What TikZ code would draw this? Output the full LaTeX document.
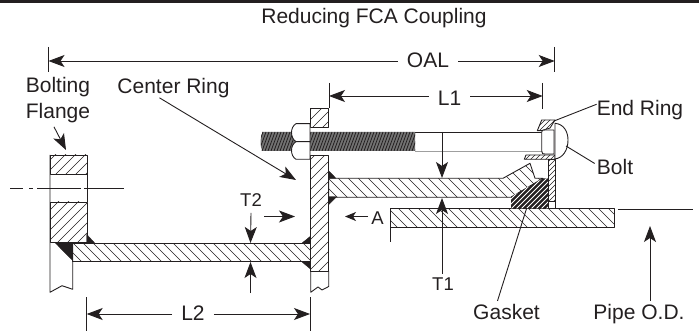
\documentclass[tikz,border=0pt]{standalone}
\usepackage{fontspec}
\setmainfont{Liberation Sans}
\usetikzlibrary{arrows.meta}
\definecolor{ink}{RGB}{35, 31, 32}

\tikzset{
	lbl/.style = {inner sep = 0pt, anchor = base, text = ink, font = \fontsize{21}{25}\selectfont},
	lblsmall/.style = {lbl, font = \fontsize{18.5}{22}\selectfont},
	dimlbl/.style = {lbl, inner xsep = 9pt},
	part/.style = {draw = ink, line width = 0.9pt, line join = round},
	hatchline/.style = {draw = ink, line width = 0.4pt},
	ext/.style = {draw = ink, line width = 0.9pt},
	dim/.style = {draw = ink, line width = 0.9pt, -{Stealth[length = 16pt, width = 12pt, inset = 4pt]}},
	leader/.style = {draw = ink, line width = 0.9pt},
	weld/.style = {fill = ink, draw = ink, line width = 0.3pt}
}
\newcommand{\hatchne}[2][10]{
	\begin{scope}
	\clip #2;
	\foreach \i in {0,#1,...,1100} {\draw[hatchline] (\i,0) -- (\i-400,400);}
	\end{scope}
	\draw[part] #2;
}
\newcommand{\hatchnw}[2][10]{
	\begin{scope}
	\clip #2;
	\foreach \i in {0,#1,...,1100} {\draw[hatchline] (\i-400,0) -- (\i,400);}
	\end{scope}
	\draw[part] #2;
}

\begin{document}
\begin{tikzpicture}[x = 1pt, y = -1pt]
			\useasboundingbox (0,0) rectangle (699,331);
			\fill[ink] (0,0) rectangle (699,2.6);

			\node (title) at (374,24) [lbl] {Reducing FCA Coupling};
			\node (flangea) at (58,92.7) [lbl] {Bolting};
			\node (flangeb) at (58,118.3) [lbl] {Flange};
			\node (center) at (173.5,93.3) [lbl] {Center Ring};
			\node (oal) at (428,67.7) [dimlbl] {OAL};
			\node (lone) at (449.5,105.7) [dimlbl] {L1};
			\node (endring) at (640,115.7) [lbl] {End Ring};
			\node (bolt) at (615,175) [lbl] {Bolt};
			\node (ttwo) at (251,206.7) [lblsmall] {T2};
			\node (ltwo) at (193,320) [dimlbl] {L2};
			\node (a) at (377.5,224.3) [lblsmall] {A};
			\node (tone) at (443,290.7) [lblsmall] {T1};
			\node (gasket) at (506.5,319.3) [lbl] {Gasket};
			\node (pipe) at (639,319.3) [lbl] {Pipe O.D.};

			\draw[part] (50,155) -- (50,292.3) -- (62,285.7) -- (72.7,289.3) -- (72.7,243);
			\hatchne{(50,155) rectangle (87,174)}
			\draw[part] (87,174) -- (87,202);
			\hatchne{(50,202) rectangle (87,242.5)}
			\hatchnw{(72.7,243.3) rectangle (310.5,261.7)}
			\fill[weld] (55,242.7) -- (72.7,242.7) -- (72.7,260.7) -- cycle;
			\fill[weld] (86.7,234.3) -- (86.7,243.3) -- (95,243.3) -- cycle;
			\fill[weld] (301.7,243.3) -- (310.7,236) -- (310.7,243.3) -- cycle;
			\fill[weld] (301.7,261.7) -- (310.7,261.7) -- (310.7,269.3) -- cycle;

			\hatchne{(310.5,108.7) rectangle (328.7,127.7)}
			\hatchne{(310.5,155.7) rectangle (328.7,271)}
			\draw[part] (310.7,271) -- (310.7,292.3) -- (318,287) -- (322,290) -- (328.7,286.5) -- (328.7,271);

			\hatchnw{(328.7,178.3) -- (503,178.3) -- (530,163.3) -- (535,178.3) -- (543,178.3) -- (511,197.3) -- (328.7,197.3) -- cycle}
			\fill[weld] (328.7,170.7) -- (328.7,178.3) -- (336,178.3) -- cycle;
			\fill[weld] (328.5,196.7) -- (336.7,196.7) -- (328.5,205) -- cycle;

			\hatchnw{(390,208.3) rectangle (614.3,227.3)}
			\draw[ext] (390,227.3) -- (390,242);

			\fill[ink] (511,196.7) -- (543.3,178.3) -- (548.3,178.3) -- (548.3,208.3) -- (511,208.3) -- cycle;
			\begin{scope}
			\clip (511,196.7) -- (543.3,178.3) -- (548.3,178.3) -- (548.3,208.3) -- (511,208.3) -- cycle;
			\foreach \i in {500,505,...,760} {\draw[white, line width = 0.8pt] (\i,100) -- (\i-120,220);}
			\end{scope}

			\draw[part, fill = white] (548.3,201.7) rectangle (555,208.3);
			\hatchne[5]{(548.3,159.3) rectangle (555,201.7)}
			\hatchne[5]{(524.3,159.3) -- (526,155) -- (555,155) -- (555,159.3) -- cycle}
			\hatchne[5]{(537.3,130.7) -- (541.7,120) -- (555,120) -- (550,128) -- (541.7,130.7) -- cycle}

			\draw[ext] (415,132) -- (541.7,132);
			\draw[line width = 0.9pt, draw = gray!75] (415,151) -- (541.7,151);
			\fill[black!55] (262,134) .. controls (260,138) and (260,147) .. (262,150) -- (262,151) -- (415,151) -- (415,132) -- (262,132) -- cycle;
			\begin{scope}
			\clip (261,132) rectangle (415,151);
			\foreach \i in {260,263,...,425} {\draw[ink, line width = 0.8pt] (\i,132) -- (\i-7,151);}
			\end{scope}
			\draw[part, fill = white] (541.7,132) .. controls (541.7,130) and (543,130) .. (545,130) -- (554,130) -- (554,154) -- (545,154) .. controls (543,154) and (541.7,154) .. (541.7,151) -- cycle;
			\draw[part, fill = white] (555,123.3) .. controls (564,124) and (568,132) .. (568,140) .. controls (568,150) and (563,158) .. (555,159) -- cycle;
			\draw[part, fill = white] (310,123.7) -- (296,123.7) .. controls (290,127) and (290,138) .. (296,141.7) -- (310,141.7) -- cycle;
			\draw[part, fill = white] (310,141.7) -- (296,141.7) .. controls (290,145) and (290,156) .. (296,159.3) -- (310,159.3) -- cycle;

			\coordinate (oalleft) at (48.5,61);
			\coordinate (oalright) at (554.7,61);
			\coordinate (loneleft) at (329,96);
			\coordinate (loneright) at (542.7,96);
			\coordinate (ltwoleft) at (86.7,314);
			\coordinate (ltworight) at (310,314);
			\draw[ext] (48.5,47) -- (48.5,72);
			\draw[ext] (554.7,47) -- (554.7,72);
			\draw[ext] (329,83) -- (329,108);
			\draw[ext] (542.7,83) -- (542.7,109);
			\draw[ext] (86.7,297) -- (86.7,331);
			\draw[ext] (310,297) -- (310,331);
			\draw[dim] (oal.west |- oalleft) -- (oalleft);
			\draw[dim] (oal.east |- oalright) -- (oalright);
			\draw[dim] (lone.west |- loneleft) -- (loneleft);
			\draw[dim] (lone.east |- loneright) -- (loneright);
			\draw[dim] (ltwo.west |- ltwoleft) -- (ltwoleft);
			\draw[dim] (ltwo.east |- ltworight) -- (ltworight);

			\coordinate (flangetip) at (66,150);
			\coordinate (centertip) at (296,180);
			\coordinate (endtip) at (554,121);
			\coordinate (bolttip) at (566,146);
			\coordinate (ttwotip) at (250.5,243);
			\coordinate (ttwoup) at (250.5,262);
			\coordinate (ttwofree) at (250.5,293);
			\coordinate (ttwoleft) at (264,216.5);
			\coordinate (ttworight) at (295,216.5);
			\coordinate (aleft) at (345,216.5);
			\coordinate (toneup) at (442,198);
			\coordinate (tonefree) at (442,132);
			\coordinate (tonedown) at (442,178);
			\coordinate (gaskettip) at (526.7,208);
			\coordinate (pipetip) at (650,226);
			\coordinate (pipelinea) at (618,209);
			\coordinate (pipelineb) at (693,209);

			\draw[dim] ([xshift = -4pt, yshift = -4pt]flangeb.south) -- (flangetip);
			\draw[dim] ([xshift = -14pt]center.south) -- (centertip);
			\draw[leader] ([yshift = 6pt]endring.west) -- (endtip);
			\draw[leader] ([xshift = -2pt, yshift = 4pt]bolt.west) -- (bolttip);
			\draw[dim] ([yshift = -6pt]ttwo.south) -- (ttwotip);
			\draw[dim] (ttwofree) -- (ttwoup);
			\draw[dim] (ttwoleft) -- (ttworight);
			\draw[dim, -{Stealth[length = 11pt, width = 9pt, inset = 3pt]}] ([xshift = -3pt]a.west |- aleft) -- (aleft);
			\draw[dim] ([yshift = 4pt]tone.north -| toneup) -- (toneup);
			\draw[dim] (tonefree) -- (tonedown);
			\draw[leader] ([xshift = -9pt, yshift = 3pt]gasket.north) -- (gaskettip);
			\draw[dim] ([yshift = 3pt]pipe.north -| pipetip) -- (pipetip);
			\draw[ext] (pipelinea) -- (pipelineb);

			\draw[ext] (10,188.4) -- (23,188.4);
			\draw[ext] (29,188.4) -- (33,188.4);
			\draw[ext] (37,188.4) -- (81,188.4);
			\draw[ext] (84,188.4) -- (124,188.4);
			\end{tikzpicture}
\end{document}
